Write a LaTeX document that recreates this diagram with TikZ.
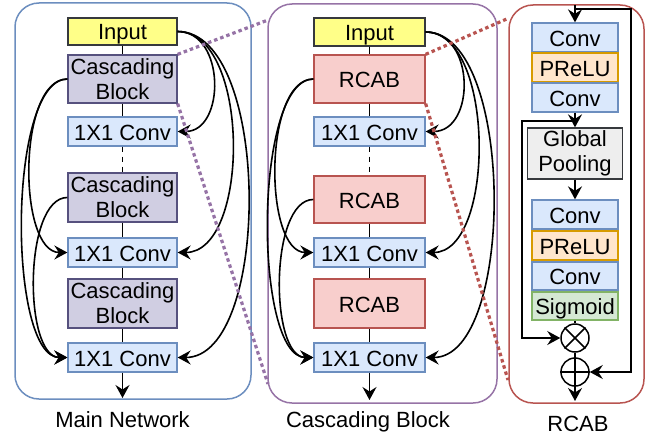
\documentclass[tikz,border=0pt]{standalone}
\usepackage{fontspec}
\setmainfont{Liberation Sans}
\usetikzlibrary{arrows.meta}
\definecolor{pblue}{HTML}{6C8EBF}
\definecolor{ppurple}{HTML}{9673A6}
\definecolor{pred}{HTML}{B85450}
\definecolor{inputfill}{HTML}{FFFF88}
\definecolor{darkedge}{HTML}{36393D}
\definecolor{cbfill}{HTML}{D0CEE2}
\definecolor{cbedge}{HTML}{56517E}
\definecolor{convfill}{HTML}{DAE8FC}
\definecolor{rcabfill}{HTML}{F8CECC}
\definecolor{prelufill}{HTML}{FFE6CC}
\definecolor{preluedge}{HTML}{D79B00}
\definecolor{gpfill}{HTML}{EEEEEE}
\definecolor{sigfill}{HTML}{D5E8D4}
\definecolor{sigedge}{HTML}{82B366}
\begin{document}
\begin{tikzpicture}[x=1pt,y=-1pt,
  font=\fontsize{22}{25}\selectfont,
  box/.style={draw, line width=1.3pt, inner sep=0pt, align=center},
  one/.style={text height=17pt, text depth=0pt},
  inputbox/.style={box, one, fill=inputfill, draw=darkedge},
  cbbox/.style={box, fill=cbfill, draw=cbedge},
  convbox/.style={box, one, fill=convfill, draw=pblue},
  rcabbox/.style={box, one, fill=rcabfill, draw=pred},
  prelubox/.style={box, one, fill=prelufill, draw=preluedge},
  gpbox/.style={box, fill=gpfill, draw=darkedge},
  sigbox/.style={box, one, fill=sigfill, draw=sigedge},
  opnode/.style={circle, draw, line width=1.5pt, minimum size=28pt, inner sep=0pt},
  panel/.style={line width=1.5pt, rounded corners=24pt},
  conn/.style={line width=1.6pt},
  arr/.style={conn, -{Stealth[length=13pt,width=14pt,inset=4.5pt]}},
  dotline/.style={line width=3.2pt, dash pattern=on 3.5pt off 3pt},
  mw/.style={minimum width=109pt},
  cw/.style={minimum width=111pt},
  rw/.style={minimum width=86pt},
  lab/.style={anchor=base},
]
\useasboundingbox (0,0) rectangle (647,436);

% panels
\draw[panel, draw=pblue] (15,3) rectangle (251,399);
\draw[panel, draw=ppurple] (268,4) rectangle (497,403);
\draw[panel, draw=pred] (509,5) rectangle (644,403);

\node[lab] (lmain) at (122.5,427) {Main Network};
\node[lab] (lcasc) at (368,427) {Cascading Block};
\node[lab] (lrcab) at (578,431) {RCAB};

% ---------- main network ----------
\node[inputbox, mw, minimum height=27pt] (in1) at (122.5,31.5) {Input};
\node[cbbox, mw, minimum height=48pt] (cb1) at (122.5,79) {Cascading\\Block};
\node[convbox, mw, minimum height=29pt] (c11) at (122.5,131.5) {1X1 Conv};
\node[cbbox, mw, minimum height=49pt] (cb2) at (122.5,197.5) {Cascading\\Block};
\node[convbox, mw, minimum height=29pt] (c12) at (122.5,252.5) {1X1 Conv};
\node[cbbox, mw, minimum height=49pt] (cb3) at (122.5,303.5) {Cascading\\Block};
\node[convbox, mw, minimum height=29pt] (c13) at (122.5,357.5) {1X1 Conv};
\coordinate (mout) at (122.5,398);

\draw[conn] (in1.south) -- (cb1.north);
\draw[conn] (cb1) -- (c11);
\draw[conn, dash pattern=on 5pt off 5pt] (c11) -- (cb2);
\draw[conn] (cb2) -- (c12);
\draw[conn] (c12) -- (cb3);
\draw[conn] (cb3) -- (c13);
\draw[arr] (c13.south) -- (mout);

\draw[arr] (in1.east) .. controls +(48,0) and +(48,0) .. (c11.east);
\draw[arr] (in1.east) .. controls +(73,0) and +(73,0) .. (c12.east);
\draw[arr] (in1.east) .. controls +(94,0) and +(94,0) .. (c13.east);
\draw[arr] (cb1.west) .. controls +(-50,0) and +(-50,0) .. (c12.west);
\draw[arr] (cb1.west) .. controls +(-60,0) and +(-60,0) .. (c13.west);
\draw[arr] (cb2.west) .. controls +(-44,0) and +(-44,0) .. (c13.west);

% ---------- cascading block ----------
\node[inputbox, cw, minimum height=28pt] (in2) at (369.5,32) {Input};
\node[rcabbox, cw, minimum height=48pt] (r1) at (369.5,79) {RCAB};
\node[convbox, cw, minimum height=29pt] (c21) at (369.5,131.5) {1X1 Conv};
\node[rcabbox, cw, minimum height=47pt] (r2) at (369.5,199.5) {RCAB};
\node[convbox, cw, minimum height=29pt] (c22) at (369.5,252.5) {1X1 Conv};
\node[rcabbox, cw, minimum height=49pt] (r3) at (369.5,303.5) {RCAB};
\node[convbox, cw, minimum height=29pt] (c23) at (369.5,357.5) {1X1 Conv};
\coordinate (cout) at (369.5,400);

\draw[conn] (in2.south) -- (r1.north);
\draw[conn] (r1) -- (c21);
\draw[conn, dash pattern=on 5pt off 5pt] (c21) -- (r2);
\draw[conn] (r2) -- (c22);
\draw[conn] (c22) -- (r3);
\draw[conn] (r3) -- (c23);
\draw[arr] (c23.south) -- (cout);

\draw[arr] (in2.east) .. controls +(50,0) and +(50,0) .. (c21.east);
\draw[arr] (in2.east) .. controls +(70,0) and +(70,0) .. (c22.east);
\draw[arr] (in2.east) .. controls +(90,0) and +(90,0) .. (c23.east);
\draw[arr] (r1.west) .. controls +(-50,0) and +(-50,0) .. (c22.west);
\draw[arr] (r1.west) .. controls +(-60,0) and +(-60,0) .. (c23.west);
\draw[arr] (r2.west) .. controls +(-44,0) and +(-44,0) .. (c23.west);

% ---------- RCAB ----------
\node[convbox, rw, minimum height=29pt] (k1) at (575,37.5) {Conv};
\node[prelubox, rw, minimum height=29pt] (p1) at (575,67.5) {PReLU};
\node[convbox, rw, minimum height=29pt] (k2) at (575,97.5) {Conv};
\node[gpbox, minimum width=95pt, minimum height=51pt] (gp) at (575,153.5) {Global\\Pooling};
\node[convbox, rw, minimum height=29pt] (k3) at (575,214.5) {Conv};
\node[prelubox, rw, minimum height=29pt] (p2) at (575,245.5) {PReLU};
\node[convbox, rw, minimum height=28pt] (k4) at (575,276) {Conv};
\node[sigbox, rw, minimum height=28pt] (sg) at (575,306) {Sigmoid};
\node[opnode] (ot) at (575,338) {};
\node[opnode] (op) at (575,372) {};
\draw[line width=1.5pt] (ot.north west) -- (ot.south east) (ot.north east) -- (ot.south west);
\draw[line width=1.5pt] (op.north) -- (op.south) (op.west) -- (op.east);

\coordinate (rin) at (575,5);
\coordinate (rsplit) at (575,9);
\coordinate (rtr) at (631,9);
\coordinate (split2) at (575,121);
\coordinate (skl) at (522,121);
\coordinate (rout) at (575,401);

\draw[arr] (rin) -- (k1.north);
\draw[arr] (rsplit) -- (rtr) |- (op.east);
\draw[arr] (k2.south) -- (gp.north);
\draw[arr] (split2) -- (skl) |- (ot.west);
\draw[arr] (gp.south) -- (k3.north);
\draw[conn] (sg.south) -- (ot.north);
\draw[conn] (ot.south) -- (op.north);
\draw[arr] (op.south) -- (rout);

% ---------- zoom lines ----------
\coordinate (pA) at (268,20);
\coordinate (pB) at (268,384);
\coordinate (rA) at (509,18);
\coordinate (rB) at (508,380);
\draw[dotline, draw=ppurple] (cb1.north east) -- (pA);
\draw[dotline, draw=ppurple] (cb1.south east) -- (pB);
\draw[dotline, draw=pred] (r1.north east) -- (rA);
\draw[dotline, draw=pred] (r1.south east) -- (rB);
\end{tikzpicture}
\end{document}
